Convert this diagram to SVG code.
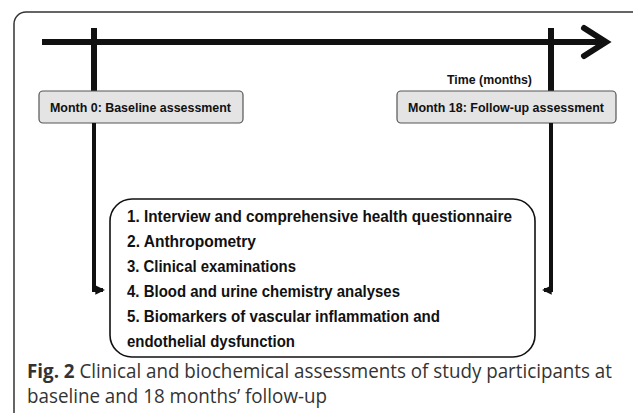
<svg xmlns="http://www.w3.org/2000/svg" width="633" height="413" viewBox="0 0 633 413">
<defs>
<style>
.frame{fill:#fff;stroke:#333;stroke-width:1.5}
.thick{fill:none;stroke:#111;stroke-width:6}
.conn{fill:none;stroke:#111;stroke-width:4}
.mbox{fill:#e4e4e4;stroke:#555;stroke-width:1.2}
.lbox{fill:#fff;stroke:#111;stroke-width:1.6}
.b{font-family:"Liberation Sans",Arial,sans-serif;font-weight:bold;fill:#111}
.cap{font-family:"Open Sans","Liberation Sans",sans-serif;fill:#333;font-size:19.5px}
</style>
<marker id="ah" viewBox="0 0 10 10" refX="8" refY="5" markerWidth="2.4" markerHeight="2.4" orient="auto"><path d="M0,0 L10,5 L0,10 z" fill="#111"/></marker>
</defs>
<rect class="frame" x="14" y="12" width="640" height="420" rx="12"/>
<g id="timeline">
<line class="thick" x1="42" y1="42" x2="604" y2="42"/>
<polyline class="thick" points="584,28 606,42 584,56" stroke-linecap="round" stroke-linejoin="miter"/>
<line class="thick" x1="94" y1="28" x2="94" y2="91"/>
<line class="thick" x1="551" y1="28" x2="551" y2="91"/>
<text class="b" x="447" y="84" font-size="13" textLength="85" lengthAdjust="spacingAndGlyphs">Time (months)</text>
</g>
<g id="month0">
<rect class="mbox" x="39" y="91" width="204" height="32" rx="4"/>
<text class="b" x="50" y="112" font-size="13.5" textLength="181" lengthAdjust="spacingAndGlyphs">Month 0: Baseline assessment</text>
</g>
<g id="month18">
<rect class="mbox" x="397" y="91" width="219" height="32" rx="4"/>
<text class="b" x="408" y="112" font-size="13.5" textLength="196" lengthAdjust="spacingAndGlyphs">Month 18: Follow-up assessment</text>
</g>
<g id="connectors">
<polyline class="conn" points="94,123 94,290 103,290" marker-end="url(#ah)"/>
<polyline class="conn" points="551,123 551,290 544,290" marker-end="url(#ah)"/>
</g>
<g id="assessments">
<rect class="lbox" x="110" y="199" width="425" height="158" rx="22"/>
<text class="b" font-size="16.5">
<tspan x="127" y="222" textLength="385" lengthAdjust="spacingAndGlyphs">1. Interview and comprehensive health questionnaire</tspan>
<tspan x="127" y="247" textLength="129" lengthAdjust="spacingAndGlyphs">2. Anthropometry</tspan>
<tspan x="127" y="272" textLength="169" lengthAdjust="spacingAndGlyphs">3. Clinical examinations</tspan>
<tspan x="127" y="297" textLength="273" lengthAdjust="spacingAndGlyphs">4. Blood and urine chemistry analyses</tspan>
<tspan x="127" y="322" textLength="313" lengthAdjust="spacingAndGlyphs">5. Biomarkers of vascular inflammation and</tspan>
<tspan x="127" y="347" textLength="168" lengthAdjust="spacingAndGlyphs">endothelial dysfunction</tspan>
</text>
</g>
<g id="caption">
<text class="cap" x="27" y="378" textLength="585" lengthAdjust="spacingAndGlyphs"><tspan font-weight="bold">Fig. 2</tspan> Clinical and biochemical assessments of study participants at</text>
<text class="cap" x="27" y="403" textLength="300" lengthAdjust="spacingAndGlyphs">baseline and 18 months’ follow-up</text>
</g>
</svg>
